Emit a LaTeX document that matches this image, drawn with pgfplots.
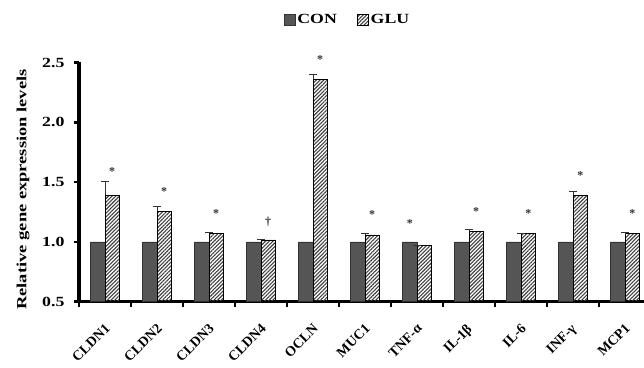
\documentclass[border=0pt]{standalone}
\usepackage{fontspec}
\setmainfont{Liberation Serif}
\usepackage{graphicx}
\usepackage{pgfplots}
\pgfplotsset{compat=1.18}
\usetikzlibrary{patterns.meta}
\newcommand\lf{\fontsize{14}{16}\selectfont\bfseries}
\newcommand\sx[1]{\scalebox{1.27}[1]{#1}}
\newcommand\rx[1]{\rotatebox{45}{#1}}
\definecolor{congray}{RGB}{85,85,85}
\begin{document}
\begin{tikzpicture}
\begin{axis}[
  at={(0,0)}, anchor=south west,
  scale only axis, width=565pt, height=239.2pt,
  clip=false,
  y filter/.expression={y-0.5},
  xmin=-0.5, xmax=10.365, ymin=0, ymax=2,
  axis x line*=bottom, axis y line*=left,
  axis line style={line width=3.5pt, black},
  ytick={0,0.5,1.0,1.5,2.0},
  yticklabels={\sx{0.5},\sx{1.0},\sx{1.5},\sx{2.0},\sx{2.5}},
  yticklabel style={xshift=-6pt},
  tick align=outside,
  major tick length=5pt,
  ytick style={line width=2.5pt, black},
  xtick={0,...,10},
  xticklabels={\rx{CLDN1},\rx{CLDN2},\rx{CLDN3},\rx{CLDN4},\rx{OCLN},\rx{MUC1},\rx{TNF-α},\rx{IL-1β},\rx{IL-6},\rx{INF-γ},\rx{MCP1}},
  major x tick style={draw=none},
  minor xtick={-0.5,0.5,...,10.5},
  minor tick length=5pt,
  minor x tick style={line width=2.5pt, black},
  tick label style={font=\lf},
  xticklabel style={anchor=north east, inner sep=0pt, xshift=6pt, yshift=-16pt},
  ylabel={\scalebox{1.32}[1]{Relative gene expression levels}},
  ylabel style={font=\lf, at={(axis description cs:-0.099,0.469)}, anchor=center},
  legend style={at={(axis description cs:0.475,1.178)}, anchor=center, draw=none, fill=none,
    legend columns=2, font=\lf, /tikz/every even column/.append style={column sep=18pt}},
]
\addplot[ybar, bar width=14.5pt, bar shift=-7.25pt, fill=congray, draw=black!80, line width=0.8pt,
  legend image code/.code={\draw[fill=congray, draw=black!80, line width=0.8pt] (0pt,-5.5pt) rectangle (11pt,5.5pt);}]
  table[x=x, y=y] {
x y
0 1.0
1 1.0
2 1.0
3 1.0
4 1.0
5 1.0
6 1.0
7 1.0
8 1.0
9 1.0
10 1.0
};
\addlegendentry{\sx{CON}}
\addplot[ybar, bar width=14.5pt, bar shift=7.25pt, pattern={Lines[angle=45, distance=2.6pt, line width=1.1pt]}, pattern color=black!75, draw=black, line width=0.8pt,
  legend image code/.code={\draw[pattern={Lines[angle=45, distance=2.6pt, line width=1.1pt]}, pattern color=black!75, draw=black, line width=0.8pt] (0pt,-5.5pt) rectangle (11pt,5.5pt);},
  error bars/.cd, y dir=plus, y explicit,
  error bar style={black!80, line width=0.8pt},
  error mark options={rotate=90, mark size=4pt, line width=0.8pt, black!80}]
  table[x=x, y=y, y error=e] {
x y e
0 1.392 0.115
1 1.258 0.036
2 1.072 0.010
3 1.016 0.006
4 2.360 0.042
5 1.058 0.014
6 0.968 0.005
7 1.089 0.016
8 1.069 0.004
9 1.390 0.036
10 1.072 0.004
};
\addlegendentry{\sx{GLU}}
\addplot[draw=none, mark=none, nodes near coords, point meta=explicit symbolic,
  nodes near coords align={anchor=center},
  every node near coord/.append style={font=\fontsize{12}{12}\selectfont\bfseries, text=black!80, inner sep=0pt}]
  table[x=x, y=y, meta=s] {
x y s
0.139 1.585 *
1.139 1.419 *
2.139 1.235 *
3.139 1.17 †
4.139 2.525 *
5.139 1.227 *
5.861 1.154 *
7.139 1.252 *
8.139 1.235 *
9.139 1.553 *
10.139 1.235 *
};
\end{axis}
\pgfresetboundingbox
\path (-79pt,-65.3pt) rectangle (565pt,301.7pt);
\end{tikzpicture}
\end{document}
